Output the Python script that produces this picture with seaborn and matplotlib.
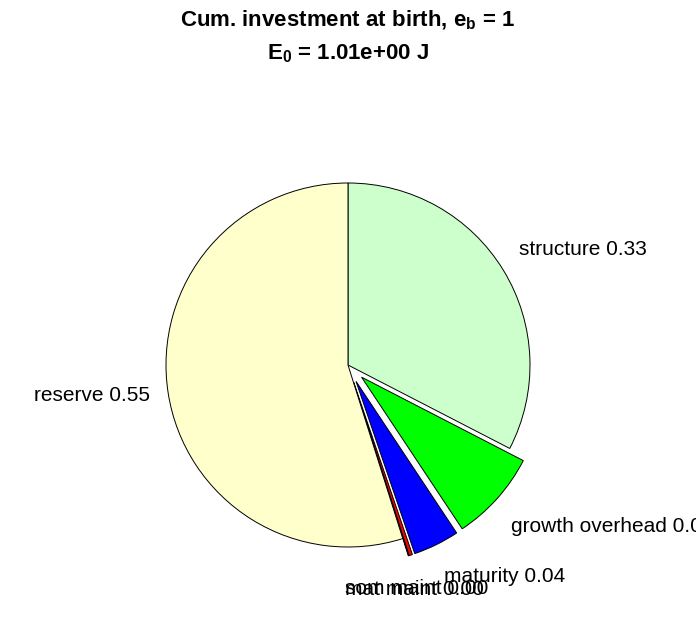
import numpy as np
import matplotlib
matplotlib.use("Agg")
import matplotlib.pyplot as plt
import seaborn as sns

# ---- data ----
categories = ["structure", "growth overhead", "maturity", "som maint", "mat maint", "reserve"]
fractions = [0.326, 0.081, 0.041, 0.003, 0.0006, 0.549]
explode = [0.0, 0.1, 0.1, 0.1, 0.1, 0.0]
colors = [(0.8, 1.0, 0.8), (0.0, 1.0, 0.0), (0.0, 0.0, 1.0),
          (1.0, 0.0, 0.0), (1.0, 0.0, 1.0), (1.0, 1.0, 0.8)]
title_line1 = r"Cum. investment at birth, e$_{\mathbf{b}}$ = 1"
title_line2 = r"E$_{\mathbf{0}}$ = 1.01e+00 J"

sns.set_theme(style="white")
plt.rcParams["font.family"] = ["Liberation Sans", "DejaVu Sans"]
plt.rcParams["mathtext.fontset"] = "custom"
plt.rcParams["mathtext.rm"] = "Liberation Sans"
plt.rcParams["mathtext.bf"] = "Liberation Sans:bold"
plt.rcParams["mathtext.it"] = "Liberation Sans:italic"
plt.rcParams["text.color"] = "black"

W, H = 696, 618
fig = plt.figure(figsize=(W / 100, H / 100), dpi=100)
fig.patch.set_facecolor("white")

R = 182.0
cx, cy = 348.0, 365.0
lim = 1.3
ax = fig.add_axes([(cx - lim * R) / W, (H - cy - lim * R) / H, 2 * lim * R / W, 2 * lim * R / H])

labels = [f"{c} {v:.2f}" for c, v in zip(categories, fractions)]
wedges, texts = ax.pie(fractions, labels=labels, colors=colors, explode=explode,
                       startangle=90, counterclock=False, labeldistance=1.1,
                       wedgeprops=dict(edgecolor="black", linewidth=0.7),
                       textprops=dict(fontsize=15, color="black"))
ax.set_xlim(-lim, lim)
ax.set_ylim(-lim, lim)
ax.set_aspect("equal")
ax.axis("off")

for w, t in zip(wedges, texts):
    ang = np.deg2rad((w.theta1 + w.theta2) / 2)
    c, s = np.cos(ang), np.sin(ang)
    x, y = t.get_position()
    if abs(c) < 0.35:
        t.set_ha("center")
    else:
        t.set_ha("left" if c > 0 else "right")
    if s > 0.3:
        t.set_va("bottom")
        y += 0.01
    elif s < -0.3:
        t.set_va("top")
        y -= 0.035
    else:
        t.set_va("center")
    t.set_position((x, y))

fig.text(cx / W, 1 - 26 / H, title_line1, ha="center", va="baseline",
         fontsize=16, fontweight="bold", color="black")
fig.text(cx / W, 1 - 59 / H, title_line2, ha="center", va="baseline",
         fontsize=16, fontweight="bold", color="black")

fig.savefig("out.png", dpi=100, facecolor="white")
